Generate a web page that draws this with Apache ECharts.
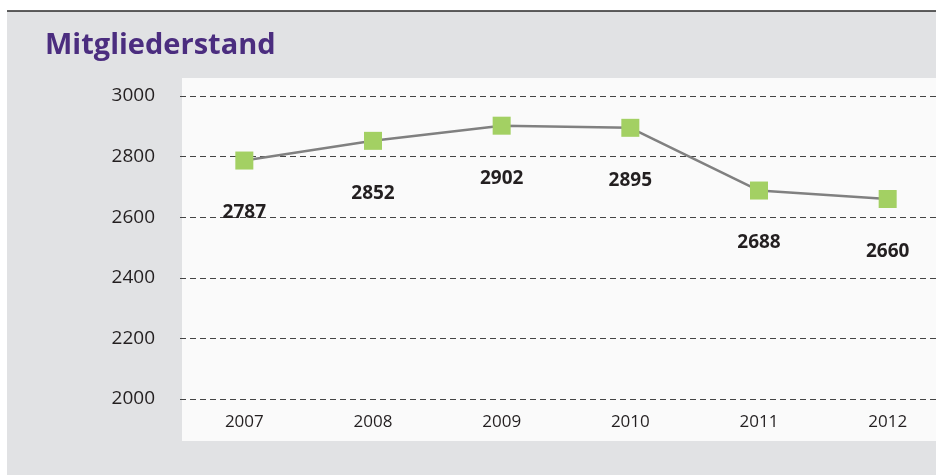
<!DOCTYPE html>
<html><head><meta charset="utf-8">
<script src="https://cdn.jsdelivr.net/npm/echarts@6/dist/echarts.min.js"></script>
<style>html,body{margin:0;padding:0;background:#fff}#c{width:936px;height:475px}</style>
</head><body><div id="c"></div>
<script>
var title = 'Mitgliederstand';
var categories = ['2007','2008','2009','2010','2011','2012'];
var values = [2787, 2852, 2902, 2895, 2688, 2660];
var yTicks = [2000, 2200, 2400, 2600, 2800, 3000];

var chart = echarts.init(document.getElementById('c'), null, {renderer:'canvas'});
var font = '"Open Sans", "Noto Sans", sans-serif';
chart.setOption({
  backgroundColor: '#ffffff',
  animation: false,
  graphic: [
    {type:'rect', z:-10, shape:{x:7, y:11, width:940, height:470}, style:{fill:'#e1e2e4'}},
    {type:'rect', z:-9, shape:{x:182, y:78, width:760, height:363}, style:{fill:'#fafafa'}},
    {type:'line', z:-8, shape:{x1:7, y1:11, x2:936, y2:11}, style:{stroke:'#2a2a2a', lineWidth:1.5}},
    {type:'text', left:45, top:31, style:{text:title, fill:'#4b2d7f', font:'bold 29px ' + font}}
  ],
  grid: {left:180, width:772, top:96, bottom:76, containLabel:false, outerBoundsMode:'none'},
  xAxis: {
    type:'category', data:categories, boundaryGap:true,
    axisLine:{show:false}, axisTick:{show:false},
    axisLabel:{color:'#231f20', fontSize:17, fontFamily:font, margin:15}
  },
  yAxis: {
    type:'value', min:yTicks[0], max:yTicks[yTicks.length-1], interval:200,
    axisLine:{show:false}, axisTick:{show:false},
    axisLabel:{color:'#231f20', fontSize:19, fontFamily:font, margin:25, formatter:function(v){return String(v);}},
    splitLine:{show:true, lineStyle:{color:'#444', width:1, type:[6,4]}}
  },
  series: [{
    type:'line', data:values,
    symbol:'rect', symbolSize:18,
    itemStyle:{color:'#a3d063'},
    lineStyle:{color:'#808080', width:2.5},
    label:{show:true, position:'bottom', distance:34, color:'#231f20', fontSize:19, fontWeight:'bold', fontFamily:font}
  }]
});
</script></body></html>
